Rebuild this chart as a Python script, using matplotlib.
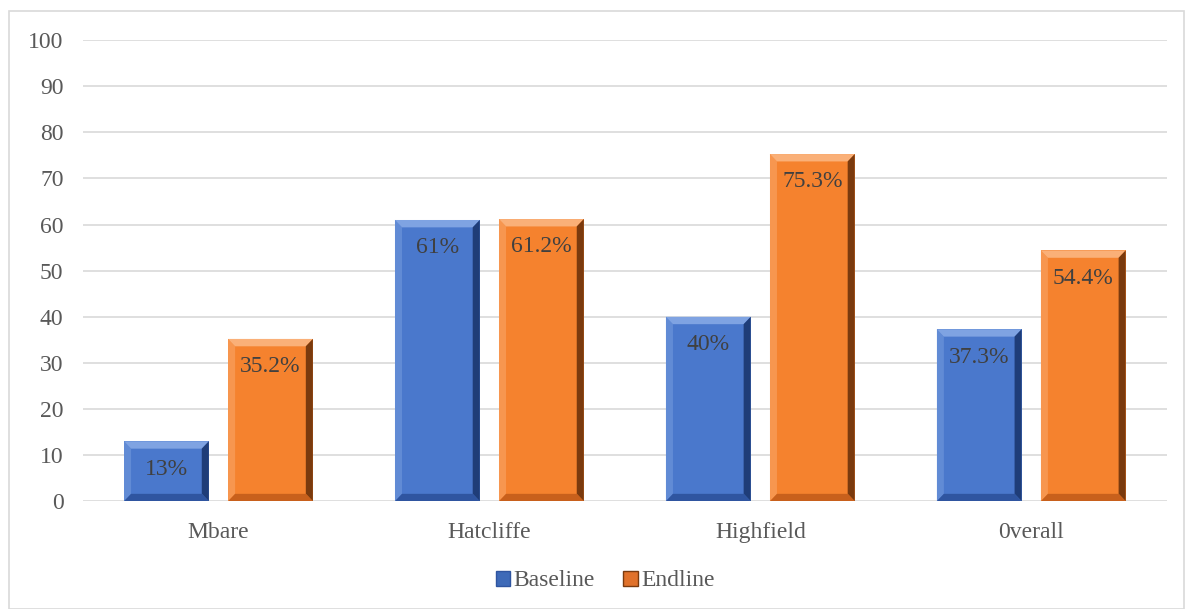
import numpy as np
import matplotlib
matplotlib.use("Agg")
import matplotlib.pyplot as plt
from matplotlib.patches import Polygon, Patch, Rectangle

# data
sites = ["Mbare", "Hatcliffe", "Highfield", "0verall"]
baseline = [13, 61, 40, 37.3]
endline = [35.2, 61.2, 75.3, 54.4]
baseline_labels = ["13%", "61%", "40%", "37.3%"]
endline_labels = ["35.2%", "61.2%", "75.3%", "54.4%"]

plt.rcParams['font.family'] = ['Liberation Serif', 'DejaVu Serif']
txt = "#595959"
fs = 17

fig = plt.figure(figsize=(11.87, 6.09), dpi=100)
ax = fig.add_axes([0.0699, 0.177, 0.913, 0.757])
fig.patches.append(Rectangle((0.0076, 0.0), 0.99, 0.982, transform=fig.transFigure,
                             fill=False, edgecolor="#d9d9d9", lw=1.2))

x = np.arange(len(sites))
w = 0.313
off = 0.192

def bevel_bar(xc, h, base, light, dark, darker):
    # flat bar then bevel edges on top of it
    bars = ax.bar([xc], [h], width=w, color=base, edgecolor="none", zorder=3)
    b = bars[0]
    x0, x1 = b.get_x(), b.get_x() + b.get_width()
    y0, y1 = 0, h
    dx, dy = 0.026, 1.6
    ax.add_patch(Polygon([(x0, y1), (x1, y1), (x1 - dx, y1 - dy), (x0 + dx, y1 - dy)],
                         closed=True, color=light, lw=0, zorder=4))
    ax.add_patch(Polygon([(x0, y0), (x0, y1), (x0 + dx, y1 - dy), (x0 + dx, y0 + dy)],
                         closed=True, color=light, lw=0, alpha=0.45, zorder=4))
    ax.add_patch(Polygon([(x1, y0), (x1, y1), (x1 - dx, y1 - dy), (x1 - dx, y0 + dy)],
                         closed=True, color=darker, lw=0, zorder=4))
    ax.add_patch(Polygon([(x0, y0), (x1, y0), (x1 - dx, y0 + dy), (x0 + dx, y0 + dy)],
                         closed=True, color=dark, lw=0, zorder=4))
    return b

for i in range(len(sites)):
    bevel_bar(x[i] - off, baseline[i], "#4a78cc", "#7fa3e2", "#2f55a0", "#1f3d78")
    bevel_bar(x[i] + off, endline[i], "#f5822e", "#fab078", "#c8601c", "#7a3a0e")
    ax.annotate(baseline_labels[i], (x[i] - off, baseline[i]), xytext=(0, -20),
                textcoords="offset points", ha="center", va="center",
                fontsize=fs, color="#404040", zorder=5)
    ax.annotate(endline_labels[i], (x[i] + off, endline[i]), xytext=(0, -20),
                textcoords="offset points", ha="center", va="center",
                fontsize=fs, color="#404040", zorder=5)

ax.set_xlim(-0.5, 3.5)
ax.set_ylim(0, 100)
ax.set_yticks(range(0, 101, 10))
ax.set_xticks(x)
ax.set_xticklabels(sites)
ax.tick_params(length=0, labelsize=fs, colors=txt)
ax.tick_params(axis="y", pad=14)
ax.tick_params(axis="x", pad=15)
ax.grid(axis="y", color="#d9d9d9", lw=1.2, zorder=0)
ax.set_axisbelow(True)
for s in ax.spines.values():
    s.set_visible(False)

handles = [Patch(facecolor="#3e6ab8", edgecolor="#2f55a0", label="Baseline"),
           Patch(facecolor="#e0712a", edgecolor="#7a3a0e", label="Endline")]
fig.legend(handles=handles, loc="center", bbox_to_anchor=(0.51, 0.046), ncol=2,
           frameon=False, fontsize=fs, labelcolor=txt, handlelength=0.6,
           handleheight=0.6, handletextpad=0.15, columnspacing=1.2)

fig.savefig("out.png", dpi=100)
